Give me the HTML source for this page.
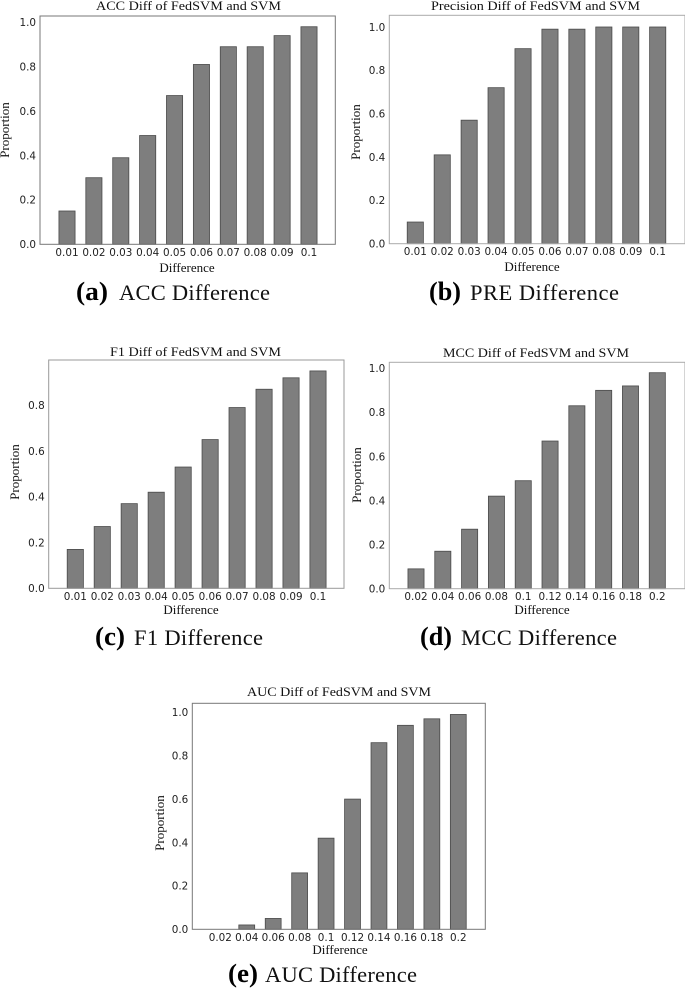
<!DOCTYPE html>
<html lang="en">
<head>
<meta charset="utf-8">
<title>FedSVM and SVM difference charts</title>
<style>
html,body{margin:0;padding:0;background:#fff;width:685px;height:988px;overflow:hidden}
svg{display:block;filter:blur(0.35px)}
.title,.axis-label{font-family:"Liberation Serif",serif;fill:#111}
.title{font-size:13px}
.axis-label{font-size:13px}
.tick{font-family:"DejaVu Sans",sans-serif;font-size:10.4px;fill:#222}
.cap{font-family:"Liberation Serif",serif;font-size:22.5px;fill:#111}
.cap-b{font-weight:bold;font-size:26px;fill:#000}
</style>
</head>
<body>
<svg id="figure" xmlns="http://www.w3.org/2000/svg" width="685" height="988" viewBox="0 0 685 988"></svg>
<script>
// Data
const categoriesSmall = ['0.01','0.02','0.03','0.04','0.05','0.06','0.07','0.08','0.09','0.1'];
const categoriesLarge = ['0.02','0.04','0.06','0.08','0.1','0.12','0.14','0.16','0.18','0.2'];
const accValues = [0.15,0.30,0.39,0.49,0.67,0.81,0.89,0.89,0.94,0.98];
const preValues = [0.10,0.41,0.57,0.72,0.90,0.99,0.99,1.00,1.00,1.00];
const f1Values  = [0.17,0.27,0.37,0.42,0.53,0.65,0.79,0.87,0.92,0.95];
const mccValues = [0.09,0.17,0.27,0.42,0.49,0.67,0.83,0.90,0.92,0.98];
const aucValues = [0.00,0.02,0.05,0.26,0.42,0.60,0.86,0.94,0.97,0.99];
const yTickLabels = ['0.0','0.2','0.4','0.6','0.8','1.0'];
const yTickLabelsF1 = ['0.0','0.2','0.4','0.6','0.8'];

// Layout of each panel (separate from the data)
const panels = [
  {id:'acc',cats:categoriesSmall,vals:accValues,ticks:yTickLabels,title:'ACC Diff of FedSVM and SVM',letter:'(a)',cap:'ACC Difference',frame:'#777',
   l:40,r:335.3,t:16,b:244.3,y1:22.3,cx0:67,cx9:309,
   tx:188.5,ty:10,tw:185,xlx:187,xly:272,ylx:9,yly:130,tby:256,bx:76,bw:32,cx:119,cw:151,cy:300},
  {id:'pre',cats:categoriesSmall,vals:preValues,ticks:yTickLabels,title:'Precision Diff of FedSVM and SVM',letter:'(b)',cap:'PRE Difference',frame:'#aaa',
   l:389.3,r:685,t:15.3,b:243.7,y1:27,cx0:415.3,cx9:657.7,
   tx:535.5,ty:10,tw:209,xlx:532,xly:271,ylx:360,yly:132,tby:255,bx:429,bw:32,cx:470,cw:149,cy:300},
  {id:'f1',cats:categoriesSmall,vals:f1Values,ticks:yTickLabelsF1,title:'F1 Diff of FedSVM and SVM',letter:'(c)',cap:'F1 Difference',frame:'#999',
   l:48.7,r:344,t:360,b:588.3,y1:359.5,cx0:75.3,cx9:318,
   tx:195.5,ty:356,tw:171,xlx:191,xly:614,ylx:19,yly:472,tby:600,bx:95,bw:30,cx:134,cw:129,cy:645},
  {id:'mcc',cats:categoriesLarge,vals:mccValues,ticks:yTickLabels,title:'MCC Diff of FedSVM and SVM',letter:'(d)',cap:'MCC Difference',frame:'#aaa',
   l:389.3,r:685,t:362.3,b:588.7,y1:368.3,cx0:416,cx9:657.3,
   tx:536,ty:357,tw:186,xlx:542,xly:614,ylx:361,yly:475,tby:600,bx:420,bw:32,cx:461,cw:156,cy:645},
  {id:'auc',cats:categoriesLarge,vals:aucValues,ticks:yTickLabels,title:'AUC Diff of FedSVM and SVM',letter:'(e)',cap:'AUC Difference',frame:'#777',
   l:192.3,r:485.3,t:703.3,b:929.3,y1:712.3,cx0:220.3,cx9:458.3,
   tx:339,ty:696,tw:184,xlx:340,xly:954,ylx:164,yly:823,tby:941,bx:228,bw:30,cx:265,cw:152,cy:982}
];

const NS = 'http://www.w3.org/2000/svg';
const fig = document.getElementById('figure');

function mk(tag, parent, attrs, text) {
  const el = document.createElementNS(NS, tag);
  for (const k in attrs) el.setAttribute(k, attrs[k]);
  if (text !== undefined) el.textContent = text;
  parent.appendChild(el);
  return el;
}

panels.forEach(function (p) {
  const xScale = function (i) { return p.cx0 + (p.cx9 - p.cx0) * i / (p.cats.length - 1); };
  const yScale = function (v) { return p.b + (p.y1 - p.b) * v; };
  const barW = (p.cx9 - p.cx0) / (p.cats.length - 1) * 0.6;

  const g = mk('g', fig, {});
  
  

  const title = mk('text', g, {class:'title', x:p.tx, y:p.ty, 'text-anchor':'middle', textLength:p.tw, lengthAdjust:'spacingAndGlyphs'}, p.title);
  
  

  p.vals.forEach(function (v, i) {
    const top = yScale(v);
    const bar = mk('rect', g, {x:xScale(i) - barW / 2, y:top, width:barW, height:Math.max(0, p.b - top), fill:'#7e7e7e', stroke:'#4a4a4a', 'stroke-width':0.8});
    
    
  });

  const frame = mk('rect', g, {x:p.l, y:p.t, width:p.r - p.l, height:p.b - p.t, fill:'none', stroke:p.frame, 'stroke-width':1});
  
  

  p.cats.forEach(function (c, i) {
    const t = mk('text', g, {class:'tick', x:xScale(i), y:p.tby, 'text-anchor':'middle'}, c);
    
    
  });

  p.ticks.forEach(function (label) {
    const t = mk('text', g, {class:'tick', x:p.l - 4, y:yScale(parseFloat(label)) + 3.8, 'text-anchor':'end'}, label);
    
    
  });

  const xl = mk('text', g, {class:'axis-label', x:p.xlx, y:p.xly, 'text-anchor':'middle'}, 'Difference');
  
  

  const yl = mk('text', g, {class:'axis-label', x:p.ylx, y:p.yly, 'text-anchor':'middle', transform:'rotate(-90 ' + p.ylx + ' ' + p.yly + ')'}, 'Proportion');
  
  

  const cb = mk('text', g, {class:'cap cap-b', x:p.bx, y:p.cy, textLength:p.bw, lengthAdjust:'spacingAndGlyphs'}, p.letter);
  
  

  const ct = mk('text', g, {class:'cap', x:p.cx, y:p.cy, textLength:p.cw, lengthAdjust:'spacing'}, p.cap);
  
  
});
</script>
</body>
</html>
